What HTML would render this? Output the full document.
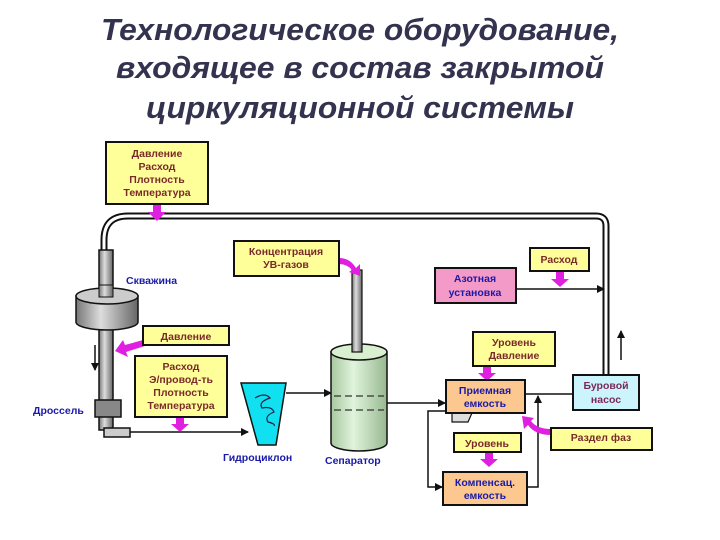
<!DOCTYPE html>
<html><head><meta charset="utf-8"><style>
html,body{margin:0;padding:0;background:#fff;}
svg{display:block;font-family:"Liberation Sans",sans-serif;}
.t{font-weight:bold;font-size:10.5px;fill:#7a2a2a;text-anchor:middle;}
.b{font-weight:bold;font-size:10.5px;fill:#1a1aa8;}
.bx{stroke:#111;stroke-width:2;}
</style></head><body>
<svg width="720" height="540" viewBox="0 0 720 540">
<defs>
<marker id="ah" markerWidth="8" markerHeight="8" refX="7" refY="4" orient="auto" markerUnits="userSpaceOnUse"><path d="M0,0 L8,4 L0,8 Z" fill="#111"/></marker>
<linearGradient id="gr" x1="0" x2="1"><stop offset="0" stop-color="#777"/><stop offset="0.4" stop-color="#ddd"/><stop offset="1" stop-color="#666"/></linearGradient>
<linearGradient id="gg" x1="0" x2="1"><stop offset="0" stop-color="#a8c8a0"/><stop offset="0.4" stop-color="#e0f4dc"/><stop offset="1" stop-color="#98b890"/></linearGradient>
</defs>
<g font-family="Liberation Sans" font-style="italic" font-weight="bold" font-size="31" fill="#33334f" text-anchor="middle">
<text x="360" y="40" textLength="518" lengthAdjust="spacingAndGlyphs">Технологическое оборудование,</text>
<text x="360" y="78" textLength="488" lengthAdjust="spacingAndGlyphs">входящее в состав закрытой</text>
<text x="360" y="118" textLength="428" lengthAdjust="spacingAndGlyphs">циркуляционной системы</text>
</g>
<path d="M104,252 L104,240 Q104,216 128,216 L596,216 Q606,216 606,226 L606,376" fill="none" stroke="#111" stroke-width="7"/>
<path d="M104,252 L104,240 Q104,216 128,216 L596,216 Q606,216 606,226 L606,376" fill="none" stroke="#fff" stroke-width="3"/>
<rect x="99" y="250" width="14" height="180" fill="url(#gr)" stroke="#111" stroke-width="1.5"/>
<path d="M76,296 L76,322 A31,8 0 0 0 138,322 L138,296 Z" fill="url(#gr)" stroke="#111" stroke-width="1.5"/>
<ellipse cx="107" cy="296" rx="31" ry="8" fill="#ccc" stroke="#111" stroke-width="1.5"/>
<rect x="99" y="285" width="14" height="12" fill="url(#gr)" stroke="#111" stroke-width="1"/>
<rect x="95" y="400" width="26" height="17" fill="#888" stroke="#111" stroke-width="1.5"/>
<path d="M104,428 L104,437 L130,437 L130,428 Z" fill="#ccc" stroke="#111" stroke-width="1.5"/>
<line x1="95" y1="345" x2="95" y2="370" stroke="#111" stroke-width="1.5" marker-end="url(#ah)"/>
<line x1="130" y1="432" x2="248" y2="432" stroke="#111" stroke-width="1.5" marker-end="url(#ah)"/>
<path d="M241,383 L286,383 L276,445 L258,445 Z" fill="#10e0f0" stroke="#111" stroke-width="1.5"/>
<path d="M255,398 q10,-6 15,0 q-12,4 -8,10 q10,-2 12,4 q-10,4 -6,10 q8,2 6,4" fill="none" stroke="#224" stroke-width="1.2"/>
<line x1="286" y1="393" x2="331" y2="393" stroke="#111" stroke-width="1.5" marker-end="url(#ah)"/>
<path d="M331,352 L331,443 A28,8 0 0 0 387,443 L387,352 Z" fill="url(#gg)" stroke="#111" stroke-width="1.5"/>
<ellipse cx="359" cy="352" rx="28" ry="8" fill="#d8f0d0" stroke="#111" stroke-width="1.5"/>
<rect x="352" y="270" width="10" height="82" fill="url(#gr)" stroke="#111" stroke-width="1.2"/>
<path d="M334,396 L384,396 M334,410 L384,410" stroke="#333" stroke-width="1.3" stroke-dasharray="7,4"/>
<line x1="387" y1="403" x2="445" y2="403" stroke="#111" stroke-width="1.5" marker-end="url(#ah)"/>
<line x1="516" y1="289" x2="604" y2="289" stroke="#111" stroke-width="1.5" marker-end="url(#ah)"/>
<line x1="525" y1="394" x2="573" y2="394" stroke="#111" stroke-width="1.5"/>
<line x1="621" y1="360" x2="621" y2="331" stroke="#111" stroke-width="1.5" marker-end="url(#ah)"/>
<path d="M446,411 L428,411 L428,487 L442,487" fill="none" stroke="#111" stroke-width="1.5" marker-end="url(#ah)"/>
<path d="M527,487 L538,487 L538,396" fill="none" stroke="#111" stroke-width="1.5" marker-end="url(#ah)"/>
<path d="M452,413 L452,422 L468,422 L472,413" fill="#ddd" stroke="#111" stroke-width="1.2"/>
<g fill="#e020e0">
<path d="M153,204 h8 v8 h5 l-9,9 l-9,-9 h5 Z"/>
<path d="M176,418 h8 v6 h5 l-9,8 l-9,-8 h5 Z"/>
<path d="M485,452 h8 v7 h5 l-9,8 l-9,-8 h5 Z"/>
<path d="M483,366 h8 v7 h5 l-9,8 l-9,-8 h5 Z"/>
<path d="M556,271 h8 v8 h5 l-9,8 l-9,-8 h5 Z"/>
<path d="M143,340 L145,346 L126,352 L128,357 L115,351 L123,340 L125,345 Z"/>
<path d="M339,258 Q350,258 356,268 L360,264 L360,276 L349,272 L352,270 Q347,264 339,264 Z"/>
<path d="M551,435 Q535,435 528,425 L524,429 L522,416 L534,418 L531,421 Q537,429 551,429 Z"/>
</g>
<g class="bx">
<rect x="106" y="142" width="102" height="62" fill="#ffff99"/>
<rect x="234" y="241" width="105" height="35" fill="#ffff99"/>
<rect x="530" y="248" width="59" height="23" fill="#ffff99"/>
<rect x="435" y="268" width="81" height="35" fill="#f49ac8"/>
<rect x="143" y="326" width="86" height="19" fill="#ffff99"/>
<rect x="135" y="356" width="92" height="61" fill="#ffff99"/>
<rect x="473" y="332" width="82" height="34" fill="#ffff99"/>
<rect x="446" y="380" width="79" height="33" fill="#fcc890"/>
<rect x="573" y="375" width="66" height="35" fill="#ccf4fc"/>
<rect x="551" y="428" width="101" height="22" fill="#ffff99"/>
<rect x="454" y="433" width="67" height="19" fill="#ffff99"/>
<rect x="443" y="472" width="84" height="33" fill="#fcc890"/>
</g>
<text class="t" x="157" y="157">Давление</text>
<text class="t" x="157" y="170">Расход</text>
<text class="t" x="157" y="183">Плотность</text>
<text class="t" x="157" y="196">Температура</text>
<text class="t" x="286" y="255">Концентрация</text>
<text class="t" x="286" y="268">УВ-газов</text>
<text class="t" x="559" y="263">Расход</text>
<text class="t" x="186" y="340">Давление</text>
<text class="t" x="181" y="370">Расход</text>
<text class="t" x="181" y="383">Э/провод-ть</text>
<text class="t" x="181" y="396">Плотность</text>
<text class="t" x="181" y="409">Температура</text>
<text class="t" x="514" y="346">Уровень</text>
<text class="t" x="514" y="359">Давление</text>
<text class="t" x="601" y="441">Раздел фаз</text>
<text class="t" x="487" y="447">Уровень</text>
<text class="t" x="606" y="389" style="fill:#7a2a5a">Буровой</text>
<text class="t" x="606" y="403" style="fill:#7a2a5a">насос</text>
<text class="t" x="475" y="282" style="fill:#1a1aa8">Азотная</text>
<text class="t" x="475" y="296" style="fill:#1a1aa8">установка</text>
<text class="t" x="485" y="394" style="fill:#1a1aa8">Приемная</text>
<text class="t" x="485" y="407" style="fill:#1a1aa8">емкость</text>
<text class="t" x="485" y="486" style="fill:#1a1aa8">Компенсац.</text>
<text class="t" x="485" y="499" style="fill:#1a1aa8">емкость</text>
<text class="b" x="126" y="284">Скважина</text>
<text class="b" x="33" y="414">Дроссель</text>
<text class="b" x="223" y="461">Гидроциклон</text>
<text class="b" x="325" y="464">Сепаратор</text>
</svg>
</body></html>
